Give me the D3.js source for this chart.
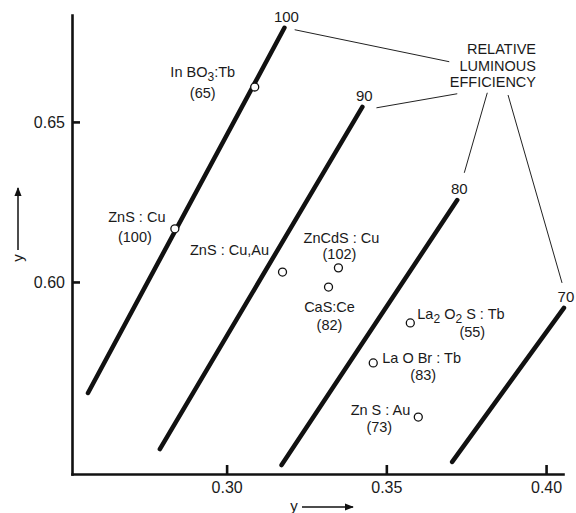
<!DOCTYPE html>
<html>
<head>
<meta charset="utf-8">
<script src="https://cdn.jsdelivr.net/npm/d3@7"></script>
<style>
  body { margin: 0; background: #fff; }
  svg { display: block; font-family: "Liberation Sans", Arial, sans-serif; }
  .axis path, .axis line { stroke: #111; stroke-width: 2.6; }
  .axis text { font-size: 16px; fill: #1a1a1a; }
  .iso { stroke: #111; stroke-width: 4.5; stroke-linecap: round; fill: none; }
  .leader { stroke: #222; stroke-width: 1; fill: none; }
  .pt { fill: #fff; stroke: #111; stroke-width: 1.3; }
  .lbl { font-size: 14.5px; fill: #1a1a1a; }
</style>
</head>
<body>
<div class="chart"></div>
<script>
// phosphor points
const phosphors = ["In BO_3:Tb", "ZnS : Cu", "ZnS : Cu,Au", "ZnCdS : Cu", "CaS:Ce", "La_2 O_2 S : Tb", "La O Br : Tb", "Zn S : Au"];
const efficiency = [65, 100, null, 102, 82, 55, 83, 73];
const pointX = [0.3088, 0.2838, 0.3175, 0.3350, 0.3319, 0.3575, 0.3459, 0.3600];
const pointY = [0.6609, 0.6166, 0.6031, 0.6044, 0.5984, 0.5872, 0.5747, 0.5578];

// constant relative luminous efficiency lines
const levels = [100, 90, 80, 70];
const levelStartX = [0.2566, 0.2791, 0.3172, 0.3706];
const levelStartY = [0.5653, 0.5478, 0.5428, 0.5438];
const levelEndX = [0.3181, 0.3425, 0.3722, 0.4056];
const levelEndY = [0.6794, 0.6547, 0.6256, 0.5919];

// leader lines from the level numbers to the note
const leaderFromX = [0.3213, 0.3469, 0.3744, 0.4050];
const leaderFromY = [0.6788, 0.6544, 0.6341, 0.5997];
const leaderToX = [0.3697, 0.3722, 0.3816, 0.3881];
const leaderToY = [0.6688, 0.6588, 0.6591, 0.6584];

const xTicks = [0.30, 0.35, 0.40];
const yTicks = [0.60, 0.65];
const note = ["RELATIVE", "LUMINOUS", "EFFICIENCY"];

const W = 576, H = 513;
const svg = d3.select(".chart").append("svg").attr("width", W).attr("height", H);

const x = d3.scaleLinear().domain([0.2516, 0.4053]).range([72, 563]);
const y = d3.scaleLinear().domain([0.54, 0.6834]).range([474, 15]);

// axes
svg.append("g")
    .attr("class", "axis")
    .attr("transform", "translate(0," + y.range()[0] + ")")
    .call(d3.axisBottom(x).tickValues(xTicks).tickFormat(d3.format(".2f"))
        .tickSize(-9).tickSizeOuter(0).tickPadding(8));

svg.append("g")
    .attr("class", "axis")
    .attr("transform", "translate(" + x.range()[0] + ",0)")
    .call(d3.axisLeft(y).tickValues(yTicks).tickFormat(d3.format(".2f"))
        .tickSize(-8).tickSizeOuter(0).tickPadding(7));

svg.selectAll(".axis .domain").attr("stroke-linecap", "square");

// axis titles with arrows
svg.append("defs").append("marker")
    .attr("id", "arr")
    .attr("viewBox", "0 0 10 10")
    .attr("refX", 9).attr("refY", 5)
    .attr("markerWidth", 6).attr("markerHeight", 6)
    .attr("orient", "auto")
    .append("path").attr("d", "M0,1 L10,5 L0,9 z").attr("fill", "#111");

svg.append("text").attr("class", "lbl")
    .attr("transform", "translate(23,258) rotate(-90)")
    .attr("text-anchor", "middle").style("font-size", "15px").text("y");
svg.append("line").attr("x1", 18).attr("y1", 250).attr("x2", 18).attr("y2", 188)
    .attr("stroke", "#111").attr("stroke-width", 1.5).attr("marker-end", "url(#arr)");

svg.append("text").attr("class", "lbl")
    .attr("x", 294).attr("y", 511)
    .attr("text-anchor", "middle").style("font-size", "15px").text("y");
svg.append("line").attr("x1", 302).attr("y1", 507).attr("x2", 353).attr("y2", 507)
    .attr("stroke", "#111").attr("stroke-width", 1.5).attr("marker-end", "url(#arr)");

// iso-efficiency lines
svg.selectAll(".iso")
    .data(levels)
    .enter()
    .append("line")
    .attr("class", "iso")
    .attr("x1", (d, i) => x(levelStartX[i]))
    .attr("y1", (d, i) => y(levelStartY[i]))
    .attr("x2", (d, i) => x(levelEndX[i]))
    .attr("y2", (d, i) => y(levelEndY[i]));

svg.selectAll(".lvl")
    .data(levels)
    .enter()
    .append("text")
    .attr("class", "lbl lvl")
    .style("font-size", "15px")
    .attr("text-anchor", "middle")
    .attr("x", (d, i) => x(levelEndX[i]) + 2)
    .attr("y", (d, i) => y(levelEndY[i]) - 6)
    .text(d => d);

svg.selectAll(".leader")
    .data(levels)
    .enter()
    .append("line")
    .attr("class", "leader")
    .attr("x1", (d, i) => x(leaderFromX[i]))
    .attr("y1", (d, i) => y(leaderFromY[i]))
    .attr("x2", (d, i) => x(leaderToX[i]))
    .attr("y2", (d, i) => y(leaderToY[i]));

svg.append("text")
    .attr("class", "lbl")
    .attr("text-anchor", "end")
    .style("font-size", "14.5px")
    .selectAll("tspan")
    .data(note)
    .enter()
    .append("tspan")
    .attr("x", 536)
    .attr("y", (d, i) => 54 + i * 16.5)
    .text(d => d);

// points
svg.selectAll(".pt")
    .data(phosphors)
    .enter()
    .append("circle")
    .attr("class", "pt")
    .attr("cx", (d, i) => x(pointX[i]))
    .attr("cy", (d, i) => y(pointY[i]))
    .attr("r", 4);

// label placement: anchor, name dx/dy, value dx/dy (px from the point)
const labelPlace = [
    ["middle", -52, -10, -52, 11],
    ["middle", -38, -7, -40, 13],
    ["middle", -53, -17, 0, 0],
    ["middle", 3, -25, 1, -9],
    ["middle", 1, 25, 1, 43],
    ["start", 7, -4, 62, 14],
    ["start", 9, 0, 50, 17],
    ["end", -8, -2, -39, 15]
];

function addName(sel, name) {
    // "_3" marks a subscript
    const parts = name.split(/_(\d)/);
    parts.forEach((p, k) => {
        if (k % 2 === 1) {
            sel.append("tspan").attr("dy", 4).style("font-size", "12px").text(p);
        } else if (p.length) {
            sel.append("tspan").attr("dy", k > 0 ? -4 : 0).text(p);
        }
    });
}

phosphors.forEach((name, i) => {
    const cx = x(pointX[i]), cy = y(pointY[i]);
    const pl = labelPlace[i];
    const t = svg.append("text").attr("class", "lbl")
        .attr("text-anchor", pl[0])
        .attr("x", cx + pl[1]).attr("y", cy + pl[2]);
    addName(t, name);
    if (efficiency[i] !== null) {
        svg.append("text").attr("class", "lbl")
            .attr("text-anchor", "middle")
            .attr("x", cx + pl[3]).attr("y", cy + pl[4])
            .text("(" + efficiency[i] + ")");
    }
});
</script>
</body>
</html>
